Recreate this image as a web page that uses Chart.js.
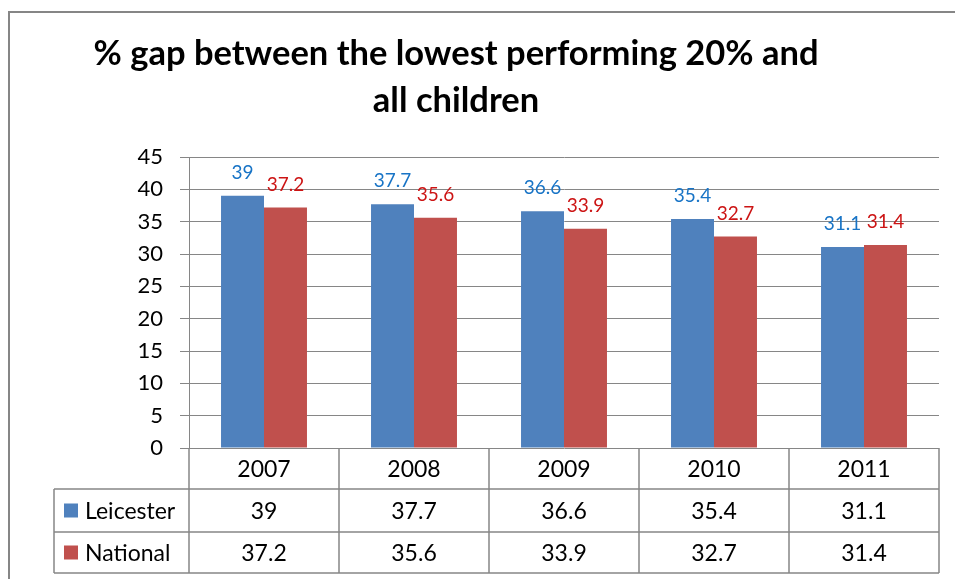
<!DOCTYPE html>
<html>
<head>
<meta charset="utf-8">
<title>% gap between the lowest performing 20% and all children</title>
<script src="https://cdn.jsdelivr.net/npm/chart.js@4/dist/chart.umd.min.js"></script>
<style>
  html, body { margin: 0; padding: 0; background: #ffffff; }
  #wrap { width: 955px; height: 579px; position: relative; }
</style>
</head>
<body>
<div id="wrap"><canvas id="chGap"></canvas></div>
<script>
"use strict";

const years = ['2007', '2008', '2009', '2010', '2011'];
const leicester = [39, 37.7, 36.6, 35.4, 31.1];
const national = [37.2, 35.6, 33.9, 32.7, 31.4];
const titleLines = ['% gap between the lowest performing 20% and', 'all children'];

const seriesNames = ['Leicester', 'National'];
const barColors = ['#4F81BD', '#C0504D'];
const labelColors = ['#1874C6', '#CC1414'];
const lineColor = '#868686';
const fontFamily = 'Lato, "Liberation Sans", sans-serif';

// title, value labels above the bars, outer frame and the data table under the axis
const gapDecor = {
  id: 'gapDecor',
  afterDraw(chart) {
    const ctx = chart.ctx;
    const area = chart.chartArea;
    const x = chart.scales.x;

    ctx.save();

    // frame
    ctx.strokeStyle = lineColor;
    ctx.lineWidth = 2;
    ctx.beginPath();
    ctx.moveTo(9, chart.height);
    ctx.lineTo(9, 12);
    ctx.lineTo(chart.width, 12);
    ctx.stroke();

    // title
    ctx.fillStyle = '#000000';
    ctx.font = 'bold 34.5px ' + fontFamily;
    ctx.textAlign = 'center';
    ctx.textBaseline = 'alphabetic';
    ctx.fillText(titleLines[0], 456, 65);
    ctx.fillText(titleLines[1], 456, 112);

    // value labels
    ctx.font = '19px ' + fontFamily;
    ctx.textBaseline = 'middle';
    chart.data.datasets.forEach((ds, i) => {
      chart.getDatasetMeta(i).data.forEach((bar, j) => {
        ctx.fillStyle = labelColors[i];
        ctx.fillText(String(ds.data[j]), bar.x, bar.y - 23);
      });
    });

    // data table
    const half = (x.getPixelForValue(1) - x.getPixelForValue(0)) / 2;
    const rows = [area.bottom, area.bottom + 41, area.bottom + 84, area.bottom + 125];
    const tableLeft = 54;

    ctx.strokeStyle = lineColor;
    ctx.lineWidth = 1.5;
    ctx.beginPath();
    for (let r = 1; r < rows.length; r++) {
      ctx.moveTo(tableLeft, rows[r]);
      ctx.lineTo(area.right, rows[r]);
    }
    ctx.moveTo(tableLeft, rows[1]);
    ctx.lineTo(tableLeft, rows[3]);
    ctx.moveTo(area.left, rows[0]);
    ctx.lineTo(area.left, rows[3]);
    years.forEach((y, j) => {
      const edge = x.getPixelForValue(j) + half;
      ctx.moveTo(edge, rows[0]);
      ctx.lineTo(edge, rows[3]);
    });
    ctx.stroke();

    ctx.font = '23px ' + fontFamily;
    ctx.fillStyle = '#000000';
    ctx.textAlign = 'center';
    years.forEach((y, j) => {
      const cx = x.getPixelForValue(j);
      ctx.fillText(y, cx, (rows[0] + rows[1]) / 2 + 1);
      ctx.fillText(String(leicester[j]), cx, (rows[1] + rows[2]) / 2 + 1);
      ctx.fillText(String(national[j]), cx, (rows[2] + rows[3]) / 2 + 1);
    });

    ctx.textAlign = 'left';
    seriesNames.forEach((name, i) => {
      const cy = (rows[i + 1] + rows[i + 2]) / 2;
      ctx.fillStyle = barColors[i];
      ctx.fillRect(64, cy - 7, 14, 14);
      ctx.fillStyle = '#000000';
      ctx.fillText(name, 85, cy + 1);
    });

    ctx.restore();
  }
};

function setChartGap() {
  const canvas = document.getElementById('chGap');

  new Chart(canvas, {
    type: 'bar',
    data: {
      labels: years,
      datasets: [
        { label: seriesNames[0], data: leicester, backgroundColor: barColors[0], borderWidth: 0 },
        { label: seriesNames[1], data: national, backgroundColor: barColors[1], borderWidth: 0 }
      ]
    },
    options: {
      responsive: true,
      maintainAspectRatio: false,
      animation: false,
      datasets: { bar: { categoryPercentage: 0.573, barPercentage: 1 } },
      layout: { padding: { left: 0, right: 16, top: 157, bottom: 131 } },
      plugins: {
        legend: { display: false },
        title: { display: false },
        tooltip: { enabled: false }
      },
      scales: {
        x: { display: false },
        y: {
          min: 0,
          max: 45,
          ticks: { stepSize: 5, padding: 17, color: '#000000', font: { family: fontFamily, size: 22 } },
          grid: { color: lineColor, lineWidth: 1, tickLength: 9, drawTicks: true },
          border: { display: true, color: lineColor, width: 1 },
          afterFit(scale) { scale.width = 189; }
        }
      }
    },
    plugins: [gapDecor]
  });
}

window.onload = setChartGap;
</script>
</body>
</html>
